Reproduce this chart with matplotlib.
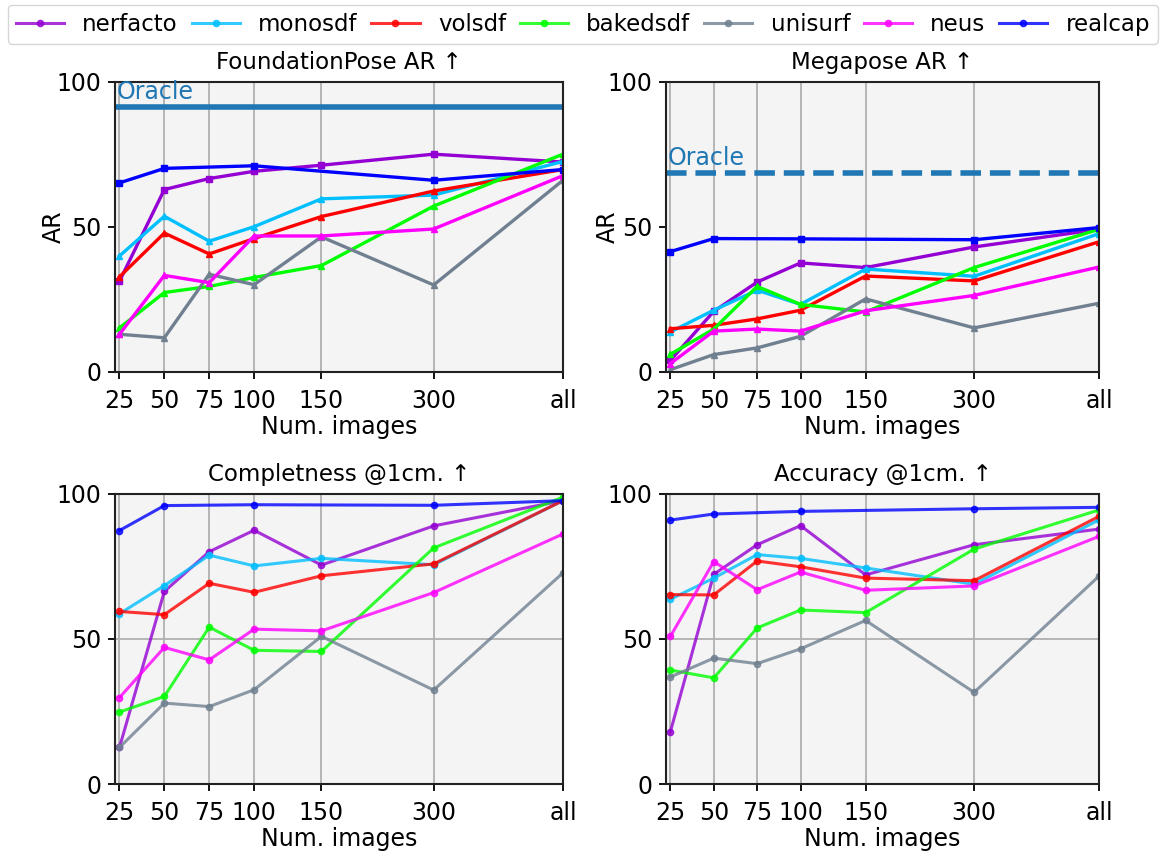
import matplotlib.pyplot as plt
import numpy as np

plt.rcParams['font.family'] = ['DejaVu Sans']
plt.rcParams['font.size'] = 17

# x positions of the image-count ticks (non-uniform spacing, as in the figure)
x_pos = [1, 2, 3, 4, 5.5, 8, 10.88]
x_labels = ['25', '50', '75', '100', '150', '300', 'all']
# realcap only has 25, 50, 100, 300, all
realcap_idx = [0, 1, 3, 5, 6]

methods = ['nerfacto', 'monosdf', 'volsdf', 'bakedsdf', 'unisurf', 'neus', 'realcap']
colors = ['darkviolet', 'deepskyblue', 'red', 'lime', 'slategray', 'magenta', 'blue']
top_markers = ['s', '^', '^', '^', '^', '^', 's']

# FoundationPose AR
fp_ar = {
    'nerfacto': [31.3, 62.9, 66.7, 69.2, 71.3, 75.1, 72.4],
    'monosdf': [40.0, 53.7, 45.1, 50.1, 59.7, 61.0, 72.6],
    'volsdf': [32.8, 47.9, 40.7, 46.0, 53.6, 62.4, 69.8],
    'bakedsdf': [15.2, 27.4, 29.5, 32.6, 36.7, 57.2, 75.1],
    'unisurf': [13.0, 11.8, 33.7, 30.1, 46.6, 30.0, 66.1],
    'neus': [13.0, 33.3, 30.8, 46.9, 46.9, 49.3, 67.7],
    'realcap': [65.2, 70.2, 71.1, 66.1, 69.8],
}
fp_oracle = 91.3

# Megapose AR
mp_ar = {
    'nerfacto': [4.0, 20.9, 31.0, 37.6, 36.0, 43.1, 49.2],
    'monosdf': [13.8, 21.3, 28.2, 23.3, 35.5, 33.0, 47.7],
    'volsdf': [14.9, 16.1, 18.3, 21.3, 33.1, 31.4, 44.9],
    'bakedsdf': [6.1, 14.8, 29.5, 23.3, 20.7, 36.0, 49.2],
    'unisurf': [0.8, 6.0, 8.3, 12.3, 25.2, 15.2, 23.7],
    'neus': [2.9, 14.1, 14.8, 14.1, 21.1, 26.4, 36.2],
    'realcap': [41.5, 46.0, 45.9, 45.6, 49.8],
}
mp_oracle = 68.6

# Completeness @1cm
completeness = {
    'nerfacto': [12.6, 66.4, 80.1, 87.5, 75.5, 89.0, 97.7],
    'monosdf': [58.7, 68.4, 78.9, 75.2, 77.8, 75.6, 97.7],
    'volsdf': [59.5, 58.4, 69.2, 66.1, 71.8, 75.9, 97.7],
    'bakedsdf': [24.8, 30.2, 54.1, 46.1, 45.7, 81.4, 98.9],
    'unisurf': [12.6, 27.9, 26.7, 32.5, 50.9, 32.4, 72.8],
    'neus': [29.8, 47.1, 42.8, 53.4, 52.8, 66.0, 86.2],
    'realcap': [87.4, 96.0, 96.3, 96.1, 97.7],
}

# Accuracy @1cm
accuracy = {
    'nerfacto': [18.0, 72.3, 82.5, 89.1, 72.1, 82.5, 87.9],
    'monosdf': [63.7, 71.0, 79.1, 77.8, 74.5, 68.9, 91.1],
    'volsdf': [65.3, 65.2, 76.9, 74.9, 71.0, 70.1, 92.3],
    'bakedsdf': [39.3, 36.6, 53.8, 60.0, 59.1, 81.0, 94.5],
    'unisurf': [36.9, 43.4, 41.5, 46.6, 56.4, 31.6, 71.7],
    'neus': [50.9, 76.7, 67.0, 73.1, 66.8, 68.3, 85.4],
    'realcap': [91.0, 93.1, 94.0, 94.9, 95.4],
}

fig = plt.figure(figsize=(11.66, 8.52), dpi=100)
ax_fp = fig.add_axes([0.0986, 0.5634, 0.3842, 0.3404])
ax_mp = fig.add_axes([0.5712, 0.5634, 0.3714, 0.3404])
ax_co = fig.add_axes([0.0986, 0.0798, 0.3842, 0.3404])
ax_ac = fig.add_axes([0.5712, 0.0798, 0.3714, 0.3404])

xp = np.array(x_pos)


def draw(ax, data, title, top):
    ax.set_facecolor('#f4f4f4')
    for m, c, mk in zip(methods, colors, top_markers):
        xs = xp[realcap_idx] if m == 'realcap' else xp
        if top:
            ax.plot(xs, data[m], color=c, marker=mk, markersize=4, lw=2.4)
        else:
            ax.plot(xs, data[m], color=c, marker='o', markersize=4.5, lw=2.2, alpha=0.8)
    ax.set_xticks(x_pos)
    ax.set_xticklabels(x_labels)
    ax.set_yticks([0, 50, 100])
    ax.set_xlim(0.9, x_pos[-1])
    ax.set_ylim(0, 100)
    ax.set_title(title, fontsize=16.5, pad=9)
    ax.set_xlabel('Num. images', labelpad=2)
    if top:
        ax.grid(axis='x', color='#b0b0b0', lw=1.3)
    else:
        ax.grid(color='#b0b0b0', lw=1.3)
    ax.set_axisbelow(True)
    for s in ax.spines.values():
        s.set_linewidth(1.5)
        s.set_color('#222222')
    ax.tick_params(axis='x', width=1.3, length=5, pad=7)
    ax.tick_params(axis='y', width=1.3, length=5, pad=5)


draw(ax_fp, fp_ar, 'FoundationPose AR \u2191', True)
draw(ax_mp, mp_ar, 'Megapose AR \u2191', True)
draw(ax_co, completeness, 'Completness @1cm. \u2191', False)
draw(ax_ac, accuracy, 'Accuracy @1cm. \u2191', False)

ax_fp.set_ylabel('AR', labelpad=-7)
ax_mp.set_ylabel('AR', labelpad=-9)

ax_fp.axhline(fp_oracle, color='tab:blue', lw=4)
ax_fp.text(0.93, fp_oracle + 1.2, 'Oracle', color='tab:blue', fontsize=17, va='bottom')
ax_mp.axhline(mp_oracle, color='tab:blue', lw=4, ls='--')
ax_mp.text(0.93, mp_oracle + 1.2, 'Oracle', color='tab:blue', fontsize=17, va='bottom')

handles = [plt.Line2D([], [], color=c, marker='o', markersize=4.5, lw=2.2, alpha=0.8)
           for c in colors]
fig.legend(handles, methods, loc='upper center', bbox_to_anchor=(0.5, 1.0),
           ncol=7, fontsize=16.5, handlelength=2.1, columnspacing=0.6,
           handletextpad=0.8, borderaxespad=0.2, borderpad=0.35)

fig.savefig('out.png', dpi=100)
